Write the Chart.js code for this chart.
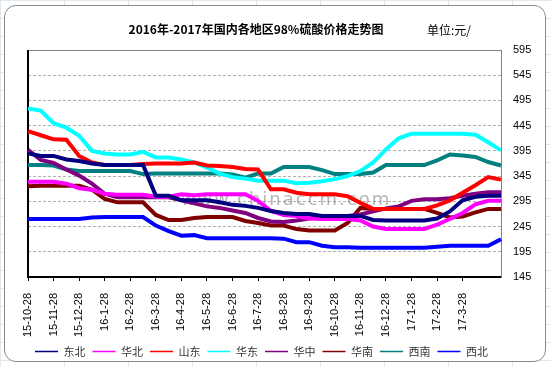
<!DOCTYPE html>
<html>
<head>
<meta charset="utf-8">
<script src="https://cdn.jsdelivr.net/npm/chart.js@4/dist/chart.umd.min.js"></script>
<style>
html, body { margin: 0; padding: 0; }
body {
  width: 551px; height: 367px; position: relative; overflow: hidden;
  background-color: #fff;
  background-image: linear-gradient(#dfe7ef 1px, transparent 1px), linear-gradient(90deg, #dfe7ef 1px, transparent 1px);
  background-size: 64px 18px;
}
#frame { position: absolute; left: 4px; top: 5px; width: 540px; height: 355px; border: 1px solid #8a8a8a; border-radius: 12px; background: #fff; }
#chart { position: absolute; left: 0; top: 0; }
.title { position: absolute; left: 0; top: 22px; width: 512px; text-align: center; font: bold 12px "Noto Sans CJK SC", sans-serif; line-height: 14px; color: #000; }
.unit { position: absolute; left: 427px; top: 23px; font: 12px "Noto Sans CJK SC", sans-serif; line-height: 14px; color: #000; }
</style>
</head>
<body>
<div id="frame"></div>
<canvas id="chart" width="551" height="367"></canvas>
<div class="title">2016年-2017年国内各地区98%硫酸价格走势图</div>
<div class="unit">单位:元/</div>
<script>
// 半月一个点，标签只写每月28日
const categories = ['15-10-28', '', '15-11-28', '', '15-12-28', '', '16-1-28', '', '16-2-28', '', '16-3-28', '',
  '16-4-28', '', '16-5-28', '', '16-6-28', '', '16-7-28', '', '16-8-28', '', '16-9-28', '', '16-10-28', '',
  '16-11-28', '', '16-12-28', '', '17-1-28', '', '17-2-28', '', '17-3-28', '', '', ''];

const dongbei = [390, 385, 385, 378, 375, 370, 367, 367, 367, 367, 306, 306, 297, 297, 297, 293, 288, 286, 282, 276,
  272, 270, 270, 266, 266, 266, 266, 258, 257, 257, 257, 257, 261, 275, 297, 304, 306, 306];
const huabei = [334, 334, 334, 330, 321, 318, 310, 308, 308, 308, 304, 304, 309, 307, 309, 309, 309, 309, 296, 276,
  268, 266, 261, 260, 260, 260, 257, 245, 240, 240, 240, 240, 249, 260, 272, 289, 296, 296];
const shandong = [434, 426, 418, 417, 385, 372, 367, 367, 367, 369, 370, 370, 370, 372, 366, 365, 363, 359, 358, 319,
  319, 312, 309, 309, 309, 305, 292, 280, 280, 280, 280, 280, 287, 297, 312, 327, 343, 338];
const huadong = [479, 475, 450, 441, 425, 395, 390, 388, 388, 393, 382, 382, 378, 372, 362, 350, 343, 340, 336, 336,
  336, 331, 332, 335, 339, 345, 355, 372, 398, 420, 429, 429, 429, 429, 429, 427, 412, 396];
const huazhong = [397, 377, 371, 358, 346, 330, 310, 303, 303, 303, 303, 303, 297, 291, 285, 282, 277, 272, 262, 255,
  254, 257, 261, 264, 266, 266, 269, 275, 281, 285, 296, 299, 299, 301, 306, 310, 313, 313];
const huanan = [325, 326, 326, 326, 326, 318, 300, 293, 293, 293, 268, 258, 258, 262, 264, 264, 264, 256, 252, 247,
  247, 240, 237, 237, 237, 252, 282, 280, 280, 280, 280, 280, 272, 263, 265, 273, 280, 280];
const xinan = [367, 367, 366, 358, 355, 355, 355, 355, 355, 349, 350, 350, 350, 350, 350, 350, 348, 342, 350, 350,
  363, 363, 363, 357, 349, 349, 349, 352, 367, 367, 367, 367, 376, 388, 386, 383, 373, 366];
const xibei = [260, 260, 260, 260, 260, 263, 264, 264, 264, 264, 247, 236, 227, 228, 222, 222, 222, 222, 222, 222,
  221, 214, 214, 207, 204, 204, 203, 203, 203, 203, 203, 203, 205, 207, 207, 207, 207, 220];

const seriesNames = ['东北', '华北', '山东', '华东', '华中', '华南', '西南', '西北'];
const seriesValues = [dongbei, huabei, shandong, huadong, huazhong, huanan, xinan, xibei];
const seriesColors = ['#000080', '#ff00ff', '#ff0000', '#00ffff', '#800080', '#800000', '#008080', '#0000ff'];

const yMin = 145;
const yMax = 595;
const yStep = 50;

// 水印 + 绘图区上边框和左边黑线
const plotDecor = {
  id: 'plotDecor',
  beforeDatasetsDraw(chart) {
    const { ctx, chartArea: a } = chart;
    ctx.save();
    ctx.font = '18px "DejaVu Sans"';
    ctx.letterSpacing = '2px';
    ctx.fillStyle = 'rgba(120,120,120,0.55)';
    ctx.textAlign = 'center';
    ctx.textBaseline = 'alphabetic';
    ctx.fillText('www.chinaccm.com', 286, 205);
    ctx.letterSpacing = '0px';
    ctx.strokeStyle = '#808080';
    ctx.lineWidth = 1;
    ctx.beginPath();
    ctx.moveTo(a.left, a.top + 0.5);
    ctx.lineTo(a.right, a.top + 0.5);
    ctx.stroke();
    ctx.strokeStyle = '#000';
    ctx.lineWidth = 2;
    ctx.beginPath();
    ctx.moveTo(a.left, a.top);
    ctx.lineTo(a.left, a.bottom);
    ctx.stroke();
    ctx.restore();
  }
};

Chart.defaults.font.family = '"Liberation Sans", Arial, sans-serif';

new Chart(document.getElementById('chart').getContext('2d'), {
  type: 'line',
  data: {
    labels: categories,
    datasets: seriesNames.map((name, i) => ({
      label: name,
      data: seriesValues[i],
      borderColor: seriesColors[i],
      backgroundColor: seriesColors[i],
      borderWidth: 4,
      pointRadius: 0,
      tension: 0,
      fill: false
    }))
  },
  options: {
    responsive: false,
    animation: false,
    layout: { padding: { left: 28, top: 50, right: 0, bottom: 0 } },
    plugins: {
      tooltip: { enabled: false },
      legend: {
        position: 'bottom',
        align: 'start',
        labels: {
          boxWidth: 23,
          boxHeight: 0,
          padding: 7,
          color: '#333',
          font: { size: 11, family: '"Noto Sans CJK SC", sans-serif' },
          generateLabels(chart) {
            const items = Chart.defaults.plugins.legend.labels.generateLabels(chart);
            items.forEach(it => { it.lineWidth = 1.5; it.fillStyle = it.strokeStyle; });
            return items;
          }
        }
      }
    },
    scales: {
      x: {
        ticks: { autoSkip: false, maxRotation: 90, minRotation: 90, padding: 12, color: '#000', font: { size: 11 } },
        grid: {
          drawOnChartArea: false,
          tickLength: 4,
          color: c => (c.tick && c.tick.label ? '#000' : 'rgba(0,0,0,0)')
        },
        border: { color: '#000', width: 2 },
        afterFit(scale) { scale.height = 62; }
      },
      y: {
        position: 'right',
        min: yMin,
        max: yMax,
        ticks: { stepSize: yStep, padding: 12, color: '#000', font: { size: 11 } },
        grid: { color: '#b0b0b0', drawTicks: false },
        border: { color: '#808080', width: 1, dash: [3, 2] },
        afterFit(scale) { scale.width = 50; }
      }
    }
  },
  plugins: [plotDecor]
});
</script>
</body>
</html>
